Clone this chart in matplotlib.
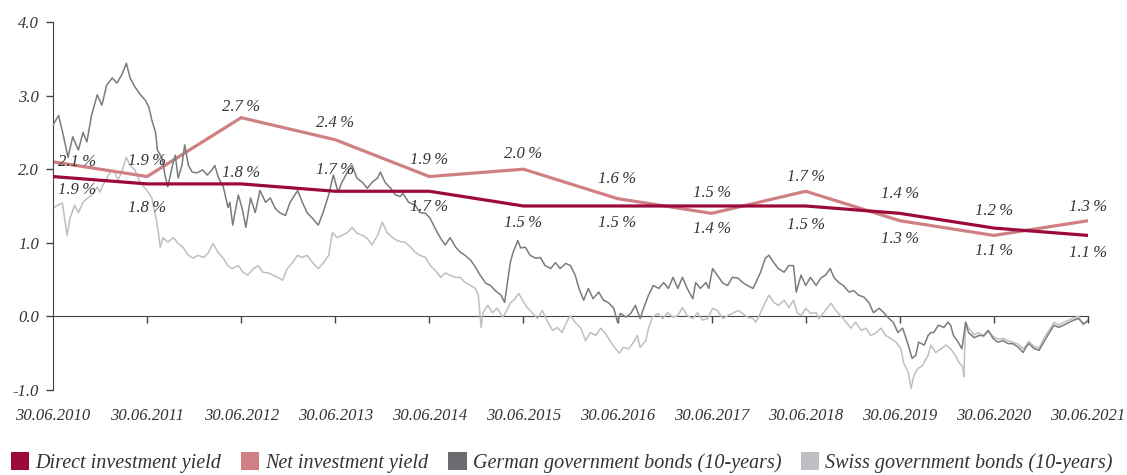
import numpy as np
import matplotlib
matplotlib.use("Agg")
import matplotlib.pyplot as plt
from matplotlib.patches import Patch

## Data
# x axis: years after 30.06.2010
years = ["30.06.2010", "30.06.2011", "30.06.2012", "30.06.2013", "30.06.2014", "30.06.2015",
         "30.06.2016", "30.06.2017", "30.06.2018", "30.06.2019", "30.06.2020", "30.06.2021"]
t_annual = list(range(12))
direct_yield = [1.9, 1.8, 1.8, 1.7, 1.7, 1.5, 1.5, 1.5, 1.5, 1.4, 1.2, 1.1]
net_yield = [2.1, 1.9, 2.7, 2.4, 1.9, 2.0, 1.6, 1.4, 1.7, 1.3, 1.1, 1.3]

german_t = [0.00, 0.06, 0.11, 0.16, 0.21, 0.27, 0.32, 0.36, 0.41, 0.47, 0.52, 0.57, 0.63, 0.68,
            0.73, 0.78, 0.82, 0.87, 0.93, 0.98, 1.02, 1.05, 1.09, 1.11, 1.16, 1.19, 1.22, 1.27,
            1.30, 1.33, 1.37, 1.40, 1.44, 1.48, 1.53, 1.59, 1.64, 1.69, 1.72, 1.76, 1.81, 1.86,
            1.88, 1.91, 1.97, 2.01, 2.05, 2.10, 2.15, 2.20, 2.26, 2.31, 2.36, 2.41, 2.47, 2.52,
            2.60, 2.65, 2.70, 2.76, 2.82, 2.87, 2.93, 2.98, 3.03, 3.07, 3.13, 3.18, 3.23, 3.29,
            3.34, 3.39, 3.45, 3.48, 3.53, 3.59, 3.64, 3.69, 3.72, 3.78, 3.85, 3.90, 3.96, 4.01,
            4.06, 4.12, 4.17, 4.22, 4.28, 4.33, 4.38, 4.44, 4.49, 4.54, 4.60, 4.65, 4.70, 4.76,
            4.80, 4.83, 4.86, 4.89, 4.94, 4.97, 5.02, 5.07, 5.13, 5.18, 5.23, 5.29, 5.34, 5.39,
            5.45, 5.50, 5.55, 5.59, 5.64, 5.69, 5.74, 5.80, 5.85, 5.90, 5.96, 6.00, 6.03, 6.09,
            6.14, 6.19, 6.24, 6.28, 6.33, 6.38, 6.44, 6.49, 6.54, 6.59, 6.64, 6.69, 6.74, 6.80,
            6.83, 6.88, 6.94, 6.97, 7.01, 7.06, 7.12, 7.17, 7.22, 7.28, 7.33, 7.38, 7.44, 7.47,
            7.52, 7.57, 7.61, 7.66, 7.71, 7.77, 7.82, 7.87, 7.90, 7.95, 8.00, 8.05, 8.11, 8.16,
            8.21, 8.26, 8.30, 8.35, 8.40, 8.46, 8.51, 8.56, 8.62, 8.67, 8.72, 8.78, 8.83, 8.87,
            8.93, 8.98, 9.03, 9.09, 9.13, 9.17, 9.20, 9.26, 9.30, 9.33, 9.36, 9.41, 9.47, 9.51,
            9.54, 9.57, 9.62, 9.66, 9.70, 9.73, 9.79, 9.84, 9.89, 9.94, 9.99, 10.04, 10.10, 10.15,
            10.20, 10.26, 10.31, 10.34, 10.37, 10.43, 10.48, 10.53, 10.59, 10.64, 10.69, 10.74,
            10.80, 10.85, 10.90, 10.95, 10.98, 11.00]
german_bonds = [2.60, 2.73, 2.46, 2.16, 2.44, 2.26, 2.50, 2.37, 2.73, 3.01, 2.87, 3.14, 3.24, 3.17,
                3.28, 3.44, 3.24, 3.12, 3.01, 2.94, 2.84, 2.67, 2.50, 2.26, 2.15, 1.92, 1.76, 2.05,
                2.19, 1.88, 2.05, 2.33, 2.05, 1.96, 1.95, 1.99, 1.92, 1.99, 2.05, 1.88, 1.76, 1.48,
                1.55, 1.24, 1.65, 1.47, 1.21, 1.61, 1.41, 1.71, 1.55, 1.61, 1.47, 1.41, 1.37, 1.55,
                1.71, 1.55, 1.41, 1.33, 1.24, 1.41, 1.65, 1.92, 1.69, 1.82, 1.96, 2.05, 1.88, 1.82,
                1.74, 1.82, 1.88, 1.96, 1.82, 1.74, 1.65, 1.63, 1.67, 1.55, 1.51, 1.41, 1.40, 1.33,
                1.20, 1.06, 0.97, 1.07, 0.94, 0.87, 0.83, 0.76, 0.67, 0.56, 0.45, 0.42, 0.35, 0.29,
                0.19, 0.46, 0.73, 0.87, 1.03, 0.93, 0.94, 0.83, 0.79, 0.80, 0.69, 0.65, 0.73, 0.65,
                0.72, 0.69, 0.56, 0.38, 0.22, 0.38, 0.24, 0.33, 0.22, 0.19, 0.11, -0.08, 0.04, -0.01,
                0.04, 0.15, -0.03, 0.12, 0.29, 0.42, 0.38, 0.46, 0.38, 0.53, 0.38, 0.53, 0.38, 0.24,
                0.46, 0.38, 0.46, 0.38, 0.65, 0.56, 0.45, 0.42, 0.53, 0.52, 0.46, 0.42, 0.38, 0.46,
                0.60, 0.79, 0.83, 0.73, 0.65, 0.60, 0.69, 0.69, 0.33, 0.56, 0.42, 0.53, 0.42, 0.52,
                0.56, 0.65, 0.53, 0.46, 0.42, 0.33, 0.35, 0.29, 0.26, 0.19, 0.05, 0.11, 0.05, -0.01,
                -0.08, -0.22, -0.16, -0.39, -0.57, -0.53, -0.35, -0.39, -0.26, -0.22, -0.22, -0.12, -0.15, -0.08,
                -0.12, -0.26, -0.35, -0.44, -0.08, -0.22, -0.29, -0.26, -0.26, -0.19, -0.30, -0.35, -0.33, -0.37,
                -0.37, -0.42, -0.49, -0.42, -0.37, -0.44, -0.46, -0.35, -0.22, -0.12, -0.15, -0.12,
                -0.08, -0.05, -0.03, -0.10, -0.08, -0.05]

swiss_t = [0.00, 0.05, 0.10, 0.15, 0.18, 0.23, 0.27, 0.32, 0.37, 0.43, 0.47, 0.50, 0.53, 0.59,
           0.63, 0.66, 0.69, 0.73, 0.78, 0.82, 0.87, 0.93, 0.98, 1.01, 1.05, 1.09, 1.12, 1.14,
           1.17, 1.22, 1.28, 1.33, 1.38, 1.44, 1.49, 1.54, 1.60, 1.65, 1.70, 1.76, 1.81, 1.86,
           1.90, 1.97, 2.02, 2.07, 2.13, 2.18, 2.23, 2.29, 2.34, 2.39, 2.44, 2.49, 2.54, 2.60,
           2.65, 2.70, 2.76, 2.82, 2.87, 2.93, 2.97, 3.02, 3.07, 3.13, 3.18, 3.23, 3.29, 3.34,
           3.39, 3.45, 3.50, 3.55, 3.61, 3.66, 3.71, 3.74, 3.80, 3.85, 3.90, 3.96, 4.01, 4.06,
           4.12, 4.17, 4.22, 4.28, 4.33, 4.38, 4.44, 4.49, 4.52, 4.55, 4.57, 4.62, 4.67, 4.72,
           4.78, 4.81, 4.86, 4.91, 4.95, 4.99, 5.04, 5.10, 5.15, 5.20, 5.26, 5.31, 5.36, 5.41,
           5.47, 5.50, 5.55, 5.61, 5.66, 5.71, 5.77, 5.82, 5.87, 5.93, 5.98, 6.02, 6.06, 6.12,
           6.17, 6.21, 6.24, 6.30, 6.33, 6.37, 6.43, 6.48, 6.53, 6.59, 6.64, 6.69, 6.74, 6.80,
           6.85, 6.90, 6.96, 7.01, 7.06, 7.12, 7.17, 7.22, 7.28, 7.33, 7.38, 7.44, 7.47, 7.52,
           7.57, 7.61, 7.66, 7.71, 7.77, 7.82, 7.87, 7.91, 7.95, 8.00, 8.05, 8.11, 8.14, 8.19,
           8.27, 8.32, 8.37, 8.43, 8.48, 8.53, 8.59, 8.64, 8.69, 8.74, 8.80, 8.85, 8.90, 8.96,
           9.01, 9.04, 9.09, 9.12, 9.15, 9.19, 9.24, 9.30, 9.33, 9.38, 9.44, 9.49, 9.54, 9.59,
           9.63, 9.67, 9.68, 9.70, 9.73, 9.79, 9.84, 9.89, 9.94, 9.99, 10.04, 10.10, 10.15, 10.20,
           10.26, 10.31, 10.34, 10.37, 10.43, 10.48, 10.53, 10.59, 10.64, 10.69, 10.74, 10.80,
           10.85, 10.90, 10.95, 10.98, 11.00]
swiss_bonds = [1.47, 1.51, 1.54, 1.10, 1.33, 1.51, 1.41, 1.55, 1.61, 1.67, 1.76, 1.69, 1.78, 1.92,
               1.99, 1.95, 1.85, 1.96, 2.16, 2.05, 1.99, 1.81, 1.74, 1.69, 1.61, 1.37, 1.14, 0.94,
               1.07, 1.01, 1.07, 0.99, 0.94, 0.83, 0.79, 0.83, 0.80, 0.86, 0.99, 0.86, 0.79, 0.69,
               0.65, 0.69, 0.60, 0.56, 0.65, 0.69, 0.60, 0.59, 0.56, 0.53, 0.49, 0.65, 0.72, 0.83,
               0.80, 0.83, 0.73, 0.65, 0.72, 0.83, 1.14, 1.07, 1.10, 1.14, 1.21, 1.13, 1.10, 1.06,
               0.97, 1.10, 1.28, 1.14, 1.07, 1.03, 1.01, 1.01, 0.94, 0.87, 0.83, 0.80, 0.69, 0.63,
               0.53, 0.59, 0.56, 0.53, 0.53, 0.46, 0.42, 0.38, 0.29, -0.15, 0.05, 0.15, 0.05, 0.11,
               -0.01, 0.05, 0.18, 0.24, 0.31, 0.22, 0.12, 0.04, -0.03, 0.08, -0.08, -0.19, -0.15, -0.22,
               -0.05, 0.01, -0.08, -0.16, -0.33, -0.22, -0.26, -0.16, -0.23, -0.35, -0.44, -0.50, -0.42, -0.44,
               -0.35, -0.26, -0.42, -0.33, -0.16, -0.01, 0.04, -0.03, 0.05, -0.01, 0.01, 0.12, 0.01, -0.03,
               0.05, -0.05, -0.03, 0.11, 0.08, -0.03, 0.01, 0.04, 0.08, 0.04, -0.01, -0.03, -0.08, 0.05,
               0.19, 0.29, 0.19, 0.15, 0.22, 0.12, 0.22, 0.05, 0.01, 0.11, 0.04, 0.05, -0.03, 0.05,
               0.18, 0.08, 0.01, -0.08, -0.16, -0.08, -0.19, -0.16, -0.26, -0.23, -0.16, -0.26, -0.30, -0.35,
               -0.44, -0.63, -0.76, -0.98, -0.80, -0.71, -0.67, -0.53, -0.39, -0.49, -0.44, -0.39, -0.44, -0.53,
               -0.63, -0.69, -0.82, -0.08, -0.16, -0.25, -0.22, -0.28, -0.20, -0.27, -0.31, -0.30, -0.33, -0.35,
               -0.38, -0.44, -0.40, -0.34, -0.41, -0.43, -0.30, -0.18, -0.08, -0.12, -0.08, -0.05,
               -0.02, 0.00, -0.12, -0.07, -0.08]

legend_labels = ["Direct investment yield", "Net investment yield",
                 "German government bonds (10-years)", "Swiss government bonds (10-years)"]

## Style
c_direct = "#9c0a3c"
c_net = "#d08082"
c_german = "#7b7b7f"
c_german_patch = "#6c6c70"
c_swiss = "#bfbfc3"
txt = "#333333"
serif = ["Liberation Serif", "DejaVu Serif"]

plt.rcParams["font.family"] = serif
plt.rcParams["font.style"] = "italic"

fig = plt.figure(figsize=(11.27, 4.75), dpi=100)
ax = fig.add_axes([0.047, 0.179, 0.9184, 0.7747])

ax.plot(swiss_t, swiss_bonds, color=c_swiss, lw=1.1, zorder=1)
ax.plot(t_annual, net_yield, color=c_net, lw=2.3, zorder=2, solid_joinstyle="miter")
ax.plot(german_t, german_bonds, color=c_german, lw=1.1, zorder=3)
ax.plot(t_annual, direct_yield, color=c_direct, lw=2.3, zorder=4, solid_joinstyle="miter")

# value label offsets in points (vertical), per year
dy_direct = [-10, -17, 8, 15, -11, -12, -12, 9, -14, 14, 12, -13]
dy_net = [0, 11, 8, 12, 12, 11, 14, -11, 10, -13, -11, 10]
for i in t_annual:
    dx = 17 if i == 0 else 0
    for vals, dy in ((direct_yield, dy_direct[i]), (net_yield, dy_net[i])):
        ax.annotate("%.1f\u2009%%" % vals[i], (i, vals[i]), xytext=(dx, dy),
                    textcoords="offset points", ha="center", va="center",
                    fontsize=12, color=txt, style="italic", zorder=5)

ax.set_xlim(0, 11)
ax.set_ylim(-1, 4)
ax.set_yticks([-1, 0, 1, 2, 3, 4])
ax.set_yticklabels(["%.1f" % v for v in [-1, 0, 1, 2, 3, 4]])
ax.set_xticks(t_annual)
ax.set_xticklabels(years)
ax.tick_params(axis="x", length=0, pad=13, labelsize=12, labelcolor=txt)
ax.tick_params(axis="y", length=5, width=1, pad=5, labelsize=12, labelcolor=txt, color="#444444")

for s in ["top", "right", "bottom"]:
    ax.spines[s].set_visible(False)
ax.spines["left"].set_color("#444444")

# zero line with year ticks
sec = ax.secondary_xaxis(0.2)
sec.set_xticks(t_annual[1:])
sec.tick_params(axis="x", direction="out", length=5, width=1, color="#444444", labelbottom=False)
sec.spines["bottom"].set_color("#444444")

handles = [Patch(facecolor=c_direct), Patch(facecolor=c_net),
           Patch(facecolor=c_german_patch), Patch(facecolor=c_swiss)]
fig.legend(handles, legend_labels, loc="center left", bbox_to_anchor=(0.006, 0.027),
           ncol=4, frameon=False, fontsize=14.5, handlelength=0.9, handleheight=1.0,
           handletextpad=0.3, columnspacing=1.0, borderaxespad=0, borderpad=0.2,
           labelcolor=txt)

fig.savefig("out.png", dpi=100)
